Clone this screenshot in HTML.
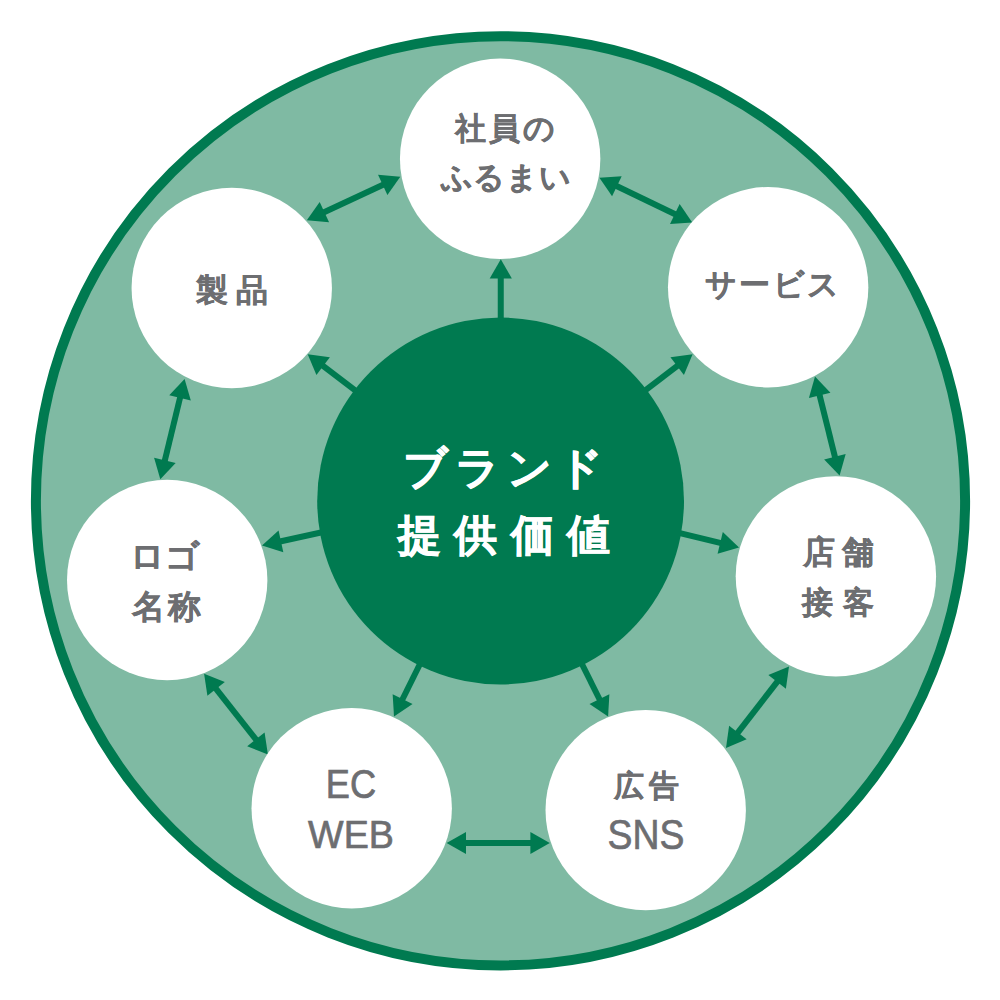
<!DOCTYPE html>
<html lang="ja"><head><meta charset="utf-8"><style>
html,body{margin:0;padding:0;background:#fff;width:1000px;height:1000px;overflow:hidden}
body{position:relative;font-family:"Liberation Sans",sans-serif}
svg{position:absolute;left:0;top:0}
.t{position:absolute;width:600px;text-align:center;white-space:nowrap;line-height:1}
.jp{color:#6d6e71;font-weight:bold;-webkit-text-stroke:0.25px #6d6e71}
.en{color:#6d6e71;-webkit-text-stroke:0.7px #6d6e71}
.wh{color:#fff;font-weight:bold;-webkit-text-stroke:0.7px #fff}
</style></head><body>
<svg width="1000" height="1000" viewBox="0 0 1000 1000"><circle cx="500.5" cy="500.8" r="464.6" fill="#7fbaa3" stroke="#007a50" stroke-width="10"/><g fill="#007a50" stroke="#007a50" stroke-width="6.0"><line x1="500.62" y1="481.00" x2="500.78" y2="277.60"/><polygon stroke="none" points="500.80,259.20 511.88,278.61 489.68,278.59"/><line x1="516.49" y1="488.86" x2="677.98" y2="365.47"/><polygon stroke="none" points="692.60,354.30 683.92,374.90 670.45,357.26"/><line x1="522.38" y1="494.98" x2="721.17" y2="543.07"/><polygon stroke="none" points="739.05,547.40 717.58,553.63 722.80,532.05"/><line x1="509.53" y1="518.90" x2="599.89" y2="700.03"/><polygon stroke="none" points="608.10,716.50 589.51,704.09 609.37,694.19"/><line x1="491.73" y1="518.93" x2="402.16" y2="700.01"/><polygon stroke="none" points="394.00,716.50 392.65,694.19 412.55,704.03"/><line x1="479.52" y1="497.68" x2="279.97" y2="541.55"/><polygon stroke="none" points="262.00,545.50 278.56,530.49 283.33,552.18"/><line x1="484.68" y1="488.89" x2="322.35" y2="365.44"/><polygon stroke="none" points="307.70,354.30 329.86,357.21 316.42,374.88"/><line x1="615.99" y1="185.76" x2="675.71" y2="214.44"/><polygon stroke="none" points="692.30,222.40 670.01,224.01 679.62,204.00"/><polygon stroke="none" points="599.40,177.80 621.69,176.19 612.08,196.20"/><line x1="819.44" y1="394.46" x2="835.16" y2="457.74"/><polygon stroke="none" points="839.60,475.60 824.15,459.45 845.69,454.10"/><polygon stroke="none" points="815.00,376.60 830.45,392.75 808.91,398.10"/><line x1="777.74" y1="681.05" x2="737.26" y2="733.35"/><polygon stroke="none" points="726.00,747.90 729.10,725.76 746.65,739.35"/><polygon stroke="none" points="789.00,666.50 785.90,688.64 768.35,675.05"/><line x1="531.40" y1="843.00" x2="465.00" y2="843.00"/><polygon stroke="none" points="446.60,843.00 466.00,831.90 466.00,854.10"/><polygon stroke="none" points="549.80,843.00 530.40,854.10 530.40,831.90"/><line x1="256.50" y1="740.16" x2="215.50" y2="688.19"/><polygon stroke="none" points="204.10,673.75 224.83,682.10 207.40,695.86"/><polygon stroke="none" points="267.90,754.60 247.17,746.25 264.60,732.49"/><line x1="164.64" y1="461.32" x2="180.26" y2="396.88"/><polygon stroke="none" points="184.60,379.00 190.82,400.47 169.24,395.24"/><polygon stroke="none" points="160.30,479.20 154.08,457.73 175.66,462.96"/><line x1="323.48" y1="212.52" x2="383.62" y2="184.48"/><polygon stroke="none" points="400.30,176.70 387.41,194.96 378.03,174.84"/><polygon stroke="none" points="306.80,220.30 319.69,202.04 329.07,222.16"/></g><circle cx="500.6" cy="501" r="183.4" fill="#007a50"/><circle cx="500.15" cy="158.75" r="100.2" fill="#fff"/><circle cx="768.15" cy="287.2" r="100.2" fill="#fff"/><circle cx="835.9" cy="576.35" r="100.2" fill="#fff"/><circle cx="645.7" cy="810.1" r="100.2" fill="#fff"/><circle cx="351.7" cy="808.2" r="100.2" fill="#fff"/><circle cx="167.2" cy="580.0" r="100.2" fill="#fff"/><circle cx="231.75" cy="288.05" r="100.2" fill="#fff"/></svg>
<div class="t jp" style="left:204.78px;top:113.40px;font-size:31.41px;letter-spacing:2.88px;text-indent:2.88px;transform:scaleX(1.0000)">社員の</div><div class="t jp" style="left:205.72px;top:162.55px;font-size:30.89px;letter-spacing:0.56px;text-indent:0.56px;transform:scaleX(1.0000)">ふるまい</div><div class="t jp" style="left:-68.06px;top:273.98px;font-size:32.13px;letter-spacing:7.33px;text-indent:7.33px;transform:scaleX(1.0000)">製品</div><div class="t jp" style="left:471.97px;top:269.43px;font-size:31.34px;letter-spacing:2.25px;text-indent:2.25px;transform:scaleX(1.0000)">サービス</div><div class="t jp" style="left:538.35px;top:536.73px;font-size:31.93px;letter-spacing:6.78px;text-indent:6.78px;transform:scaleX(1.0000)">店舗</div><div class="t jp" style="left:537.90px;top:587.60px;font-size:30.88px;letter-spacing:9.51px;text-indent:9.51px;transform:scaleX(1.0000)">接客</div><div class="t jp" style="left:-134.72px;top:539.10px;font-size:34.43px;letter-spacing:0.36px;text-indent:0.36px;transform:scaleX(1.0000)">ロゴ</div><div class="t jp" style="left:-133.10px;top:590.13px;font-size:33.31px;letter-spacing:3.00px;text-indent:3.00px;transform:scaleX(1.0000)">名称</div><div class="t jp" style="left:346.37px;top:771.05px;font-size:30.37px;letter-spacing:5.30px;text-indent:5.30px;transform:scaleX(1.0000)">広告</div><div class="t en" style="left:346.42px;top:813.53px;font-size:41.85px;letter-spacing:0.00px;text-indent:0.00px;transform:scaleX(0.8923)">SNS</div><div class="t en" style="left:50.75px;top:764.63px;font-size:39.82px;letter-spacing:0.00px;text-indent:0.00px;transform:scaleX(0.9091)">EC</div><div class="t en" style="left:50.95px;top:815.45px;font-size:39.65px;letter-spacing:0.00px;text-indent:0.00px;transform:scaleX(0.9499)">WEB</div><div class="t wh" style="left:203.14px;top:445.94px;font-size:43.70px;letter-spacing:6.90px;text-indent:6.90px;transform:scaleX(1.0000)">ブランド</div><div class="t wh" style="left:204.00px;top:513.71px;font-size:42.55px;letter-spacing:13.29px;text-indent:13.29px;transform:scaleX(1.0000)">提供価値</div>
</body></html>
